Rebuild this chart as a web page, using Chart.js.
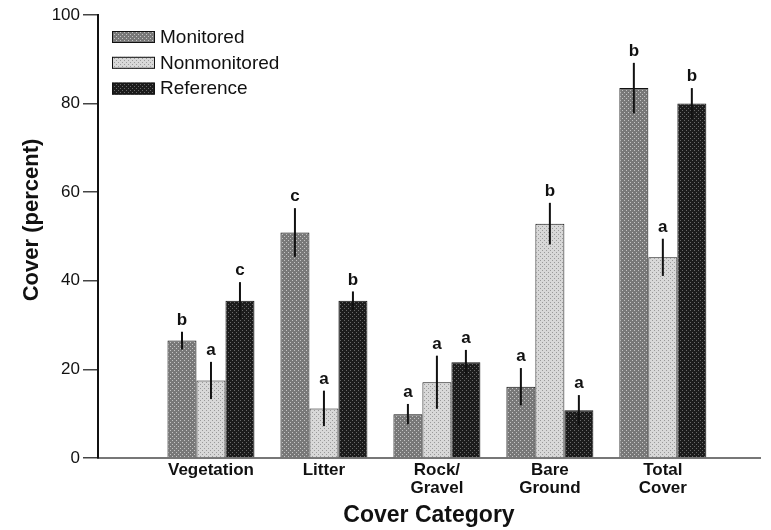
<!DOCTYPE html>
<html>
<head>
<meta charset="utf-8">
<script src="https://cdn.jsdelivr.net/npm/chart.js@4/dist/chart.umd.min.js"></script>
<style>
  html, body { margin: 0; padding: 0; background: #fff; }
  #wrap { position: relative; width: 771px; height: 530px; }
</style>
</head>
<body>
<div id="wrap"><canvas id="c"></canvas></div>
<script>
// ---- data ----
const categories = ['Vegetation', 'Litter', 'Rock/Gravel', 'Bare Ground', 'Total Cover'];
const tickLabels = [['Vegetation'], ['Litter'], ['Rock/', 'Gravel'], ['Bare', 'Ground'], ['Total', 'Cover']];
const seriesNames = ['Monitored', 'Nonmonitored', 'Reference'];

const monitored    = [26.5, 50.9, 9.9, 16.1, 83.5];
const monitoredErr = [2.0, 5.5, 2.3, 4.2, 5.7];
const monitoredLetters = ['b', 'c', 'a', 'a', 'b'];

const nonmonitored    = [17.5, 11.2, 17.1, 52.9, 45.3];
const nonmonitoredErr = [4.2, 4.0, 6.0, 4.7, 4.2];
const nonmonitoredLetters = ['a', 'a', 'a', 'b', 'a'];

const reference    = [35.5, 35.5, 21.6, 10.8, 80.0];
const referenceErr = [4.2, 2.1, 2.8, 3.4, 3.5];
const referenceLetters = ['c', 'b', 'a', 'a', 'b'];

const yTicks = [0, 20, 40, 60, 80, 100];
const yTitle = 'Cover (percent)';
const xTitle = 'Cover Category';

// ---- styling helpers ----
const FONT = "'Liberation Sans', Arial, Helvetica, sans-serif";
const canvas = document.getElementById('c');
const ctx = canvas.getContext('2d');

function makePattern(base, dot) {
  const t = document.createElement('canvas');
  t.width = 4; t.height = 4;
  const g = t.getContext('2d');
  g.fillStyle = base; g.fillRect(0, 0, 4, 4);
  g.fillStyle = dot;
  g.fillRect(0, 0, 1, 1);
  g.fillRect(2, 2, 1, 1);
  return ctx.createPattern(t, 'repeat');
}
const fills = [
  makePattern('#787878', '#c4c4c4'),
  makePattern('#d8d8d8', '#9a9a9a'),
  makePattern('#1c1c1c', '#6a6a6a')
];

function toPoints(arr) { return arr.map((v, i) => ({ x: i + 1, y: v })); }

const datasets = [
  { label: seriesNames[0], data: toPoints(monitored), errors: monitoredErr, letters: monitoredLetters },
  { label: seriesNames[1], data: toPoints(nonmonitored), errors: nonmonitoredErr, letters: nonmonitoredLetters },
  { label: seriesNames[2], data: toPoints(reference), errors: referenceErr, letters: referenceLetters }
].map((d, i) => Object.assign(d, {
  backgroundColor: fills[i],
  borderColor: '#111',
  borderWidth: 1,
  categoryPercentage: 0.77,
  barPercentage: 1.0
}));

// error bars + significance letters
const errorBarPlugin = {
  id: 'errorBars',
  afterDatasetsDraw(chart) {
    const c = chart.ctx;
    const ys = chart.scales.y;
    c.save();
    chart.data.datasets.forEach((ds, di) => {
      const meta = chart.getDatasetMeta(di);
      meta.data.forEach((bar, i) => {
        const v = ds.data[i].y, e = ds.errors[i];
        const top = ys.getPixelForValue(v + e);
        const bot = ys.getPixelForValue(v - e);
        c.strokeStyle = '#111';
        c.lineWidth = 2;
        c.beginPath();
        c.moveTo(bar.x, bot);
        c.lineTo(bar.x, top);
        c.stroke();
        c.fillStyle = '#111';
        c.font = 'bold 17px ' + FONT;
        c.textAlign = 'center';
        c.textBaseline = 'bottom';
        c.fillText(ds.letters[i], bar.x, top - 3);
      });
    });
    c.restore();
  }
};

// legend drawn inside the plot area, stacked; rotated y-axis title
const legendPlugin = {
  id: 'insideLegend',
  afterDraw(chart) {
    const c = chart.ctx;
    c.save();
    chart.data.datasets.forEach((ds, i) => {
      const bx = 112, by = 31 + i * 25.8;
      c.fillStyle = ds.backgroundColor;
      c.fillRect(bx, by, 43, 12);
      c.strokeStyle = '#111';
      c.lineWidth = 1;
      c.strokeRect(bx + 0.5, by + 0.5, 42, 11);
      c.fillStyle = '#111';
      c.font = '19px ' + FONT;
      c.textAlign = 'left';
      c.textBaseline = 'middle';
      c.fillText(ds.label, 160, by + 6.5);
    });
    // y-axis title
    c.translate(32, 220);
    c.rotate(-Math.PI / 2);
    c.font = 'bold 22px ' + FONT;
    c.textAlign = 'center';
    c.textBaseline = 'middle';
    c.fillText(yTitle, 0, 0);
    c.restore();
  }
};

new Chart(canvas, {
  type: 'bar',
  data: { datasets },
  options: {
    responsive: true,
    maintainAspectRatio: false,
    animation: false,
    layout: { padding: { top: 15, right: 11, bottom: 0, left: 0 } },
    plugins: {
      legend: { display: false },
      tooltip: { enabled: false }
    },
    scales: {
      x: {
        type: 'linear',
        min: 0,
        max: 5.86,
        offset: false,
        afterBuildTicks(scale) {
          scale.ticks = categories.map((c, i) => ({ value: i + 1 }));
        },
        afterFit(scale) { scale.height = 72; },
        grid: { display: false, drawTicks: false },
        border: { display: true, color: '#777', width: 2 },
        ticks: {
          autoSkip: false,
          maxRotation: 0,
          padding: 4,
          color: '#111',
          font: { family: FONT, size: 17, weight: 'bold', lineHeight: 1.02 },
          callback: (v) => {
            const idx = Math.round(v) - 1;
            return tickLabels[idx] || '';
          }
        },
        title: {
          display: true,
          text: xTitle,
          color: '#111',
          font: { family: FONT, size: 23, weight: 'bold' },
          padding: { top: 0, bottom: 1 }
        }
      },
      y: {
        min: 0,
        max: 100,
        afterBuildTicks(scale) {
          scale.ticks = yTicks.map(v => ({ value: v }));
        },
        afterFit(scale) { scale.width = 98; },
        grid: {
          display: true,
          drawOnChartArea: false,
          drawTicks: true,
          tickLength: 15,
          color: '#444',
          lineWidth: 1.5
        },
        border: { display: true, color: '#111', width: 2 },
        ticks: {
          padding: 3,
          color: '#111',
          font: { family: FONT, size: 17 }
        },
        title: { display: false }
      }
    }
  },
  plugins: [errorBarPlugin, legendPlugin]
});
</script>
</body>
</html>
